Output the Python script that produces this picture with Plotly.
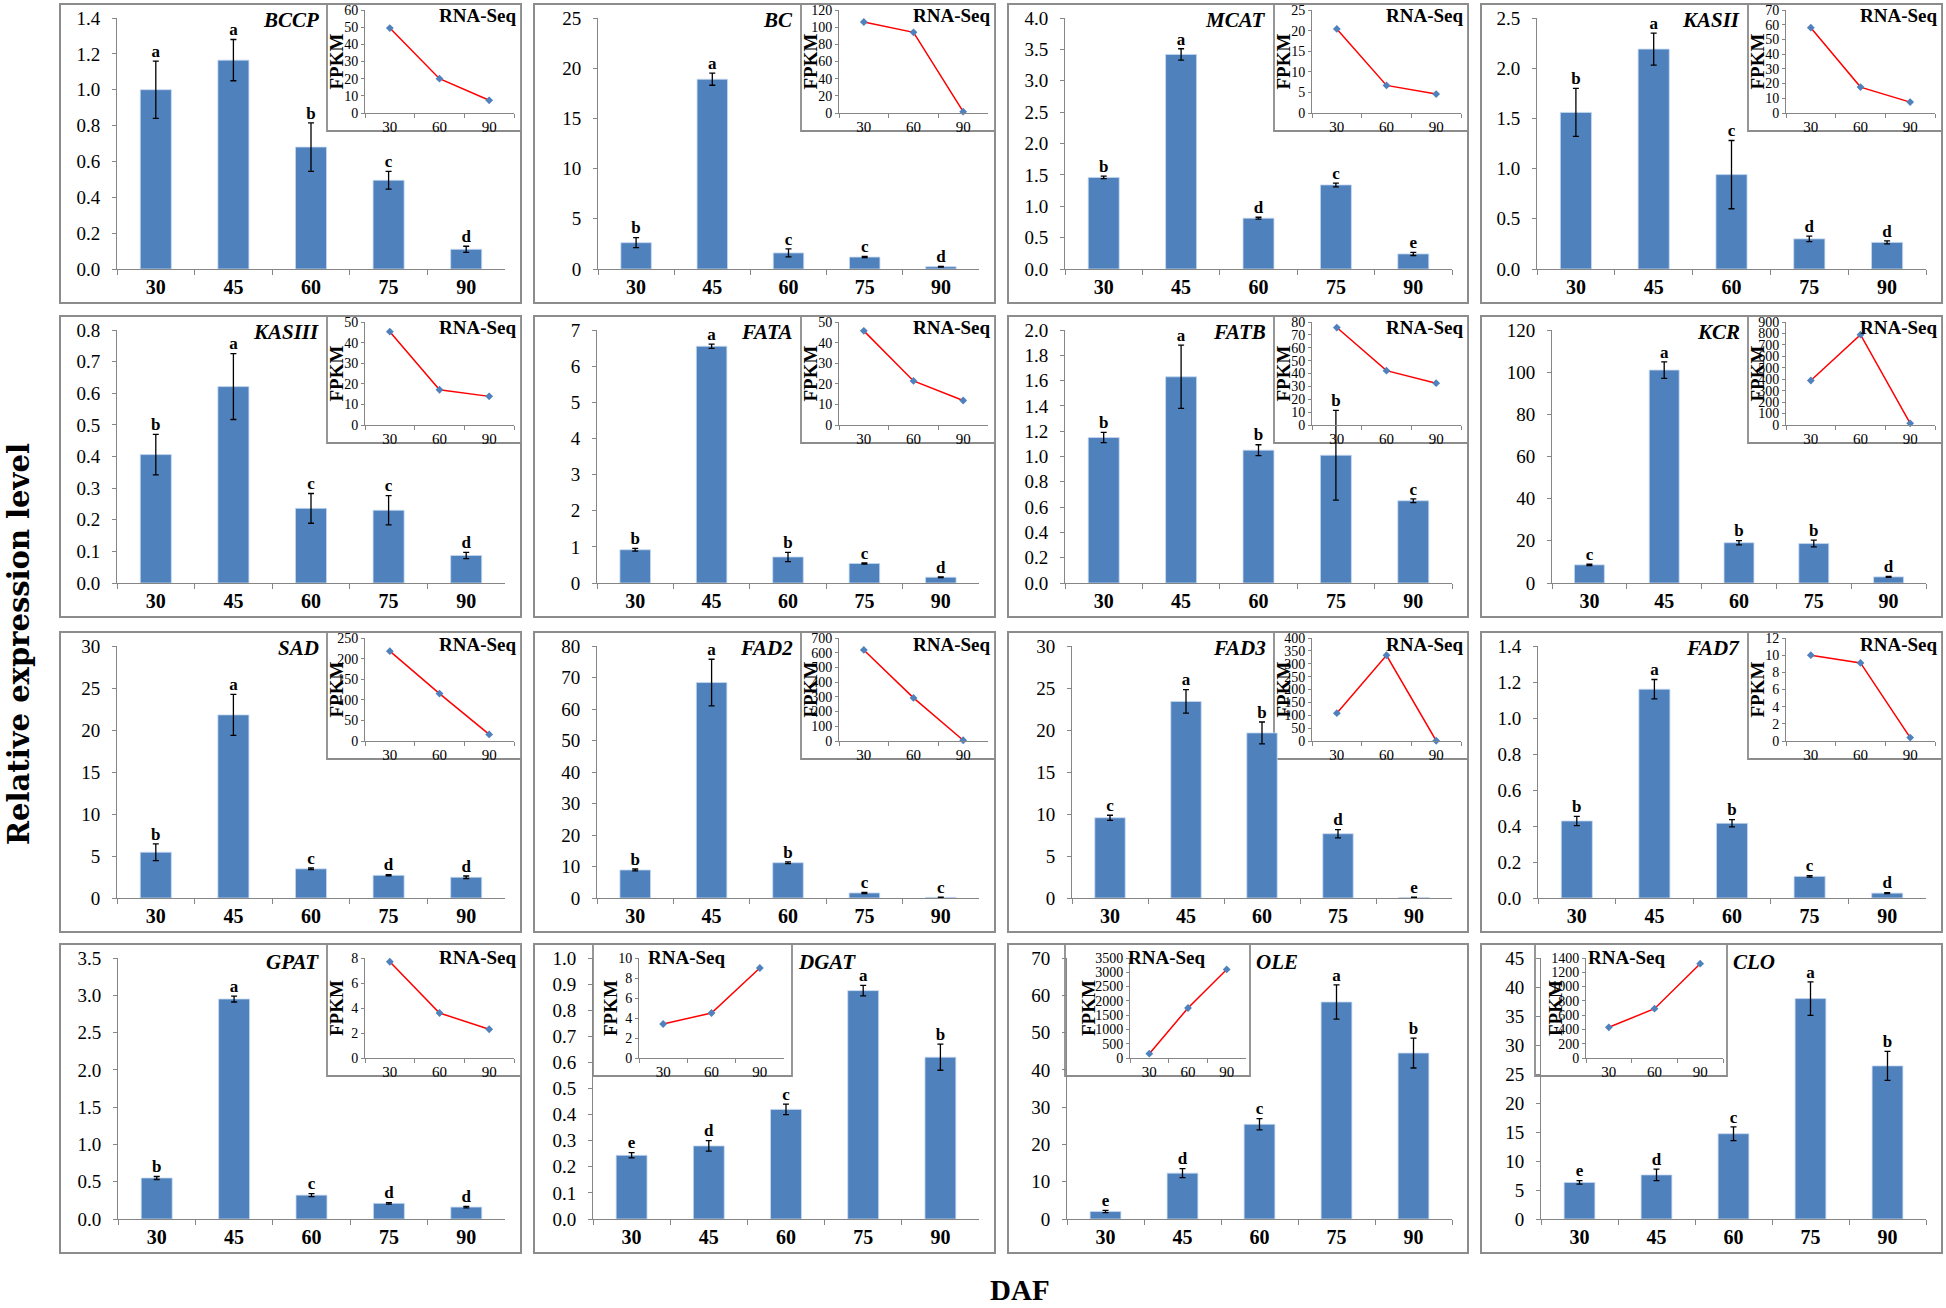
import plotly.graph_objects as go

# ---------------- data ----------------
genes = ["BCCP", "BC", "MCAT", "KASII", "KASIII", "FATA", "FATB", "KCR",
         "SAD", "FAD2", "FAD3", "FAD7", "GPAT", "DGAT", "OLE", "CLO"]
daf = ["30", "45", "60", "75", "90"]
seq_days = ["30", "60", "90"]

expr_bccp = [1.00, 1.165, 0.68, 0.495, 0.11]
expr_bc = [2.62, 18.9, 1.6, 1.19, 0.23]
expr_mcat = [1.46, 3.42, 0.81, 1.34, 0.24]
expr_kasii = [1.56, 2.19, 0.94, 0.30, 0.265]
expr_kasiii = [0.406, 0.621, 0.236, 0.230, 0.087]
expr_fata = [0.92, 6.55, 0.72, 0.54, 0.16]
expr_fatb = [1.15, 1.63, 1.05, 1.01, 0.65]
expr_kcr = [8.6, 101.0, 19.1, 18.7, 2.9]
expr_sad = [5.45, 21.8, 3.47, 2.7, 2.47]
expr_fad2 = [8.9, 68.4, 11.2, 1.6, 0.2]
expr_fad3 = [9.55, 23.4, 19.65, 7.65, 0.05]
expr_fad7 = [0.428, 1.16, 0.415, 0.12, 0.027]
expr_gpat = [0.55, 2.95, 0.32, 0.21, 0.16]
expr_dgat = [0.244, 0.28, 0.42, 0.875, 0.62]
expr_ole = [2.0, 12.3, 25.4, 58.2, 44.5]
expr_clo = [6.3, 7.6, 14.7, 38.0, 26.4]
expr = [expr_bccp, expr_bc, expr_mcat, expr_kasii, expr_kasiii, expr_fata,
        expr_fatb, expr_kcr, expr_sad, expr_fad2, expr_fad3, expr_fad7,
        expr_gpat, expr_dgat, expr_ole, expr_clo]

err = [
    [0.16, 0.115, 0.135, 0.05, 0.017],
    [0.5, 0.6, 0.4, 0.06, 0.03],
    [0.02, 0.09, 0.015, 0.03, 0.025],
    [0.24, 0.16, 0.34, 0.027, 0.015],
    [0.064, 0.104, 0.047, 0.046, 0.01],
    [0.04, 0.06, 0.13, 0.015, 0.01],
    [0.04, 0.25, 0.043, 0.355, 0.015],
    [0.3, 3.9, 1.0, 1.6, 0.2],
    [1.0, 2.45, 0.1, 0.07, 0.15],
    [0.3, 7.4, 0.3, 0.2, 0.05],
    [0.3, 1.4, 1.3, 0.5, 0.05],
    [0.026, 0.054, 0.02, 0.004, 0.003],
    [0.02, 0.04, 0.02, 0.01, 0.01],
    [0.01, 0.02, 0.02, 0.02, 0.05],
    [0.3, 1.2, 1.5, 4.6, 4.0],
    [0.3, 1.0, 1.2, 2.9, 2.5],
]

letters = [
    ["a", "a", "b", "c", "d"], ["b", "a", "c", "c", "d"], ["b", "a", "d", "c", "e"],
    ["b", "a", "c", "d", "d"], ["b", "a", "c", "c", "d"], ["b", "a", "b", "c", "d"],
    ["b", "a", "b", "b", "c"], ["c", "a", "b", "b", "d"], ["b", "a", "c", "d", "d"],
    ["b", "a", "b", "c", "c"], ["c", "a", "b", "d", "e"], ["b", "a", "b", "c", "d"],
    ["b", "a", "c", "d", "d"], ["e", "d", "c", "a", "b"], ["e", "d", "c", "a", "b"],
    ["e", "d", "c", "a", "b"],
]

fpkm = [
    [49.5, 20.0, 7.4], [106.0, 94.0, 1.6], [20.4, 6.7, 4.6], [58.0, 17.6, 7.4],
    [45.3, 17.1, 13.9], [45.7, 21.4, 11.9], [75.7, 42.2, 32.5], [389, 789, 15],
    [218, 115, 16], [619, 293, 5], [108, 333, 1], [10.0, 9.1, 0.4],
    [7.7, 3.6, 2.3], [3.4, 4.5, 9.0], [150, 1750, 3100], [430, 690, 1320],
]

y_max = [1.4, 25, 4.0, 2.5, 0.8, 7, 2.0, 120, 30, 80, 30, 1.4, 3.5, 1.0, 70, 45]
y_step = [0.2, 5, 0.5, 0.5, 0.1, 1, 0.2, 20, 5, 10, 5, 0.2, 0.5, 0.1, 10, 5]
y_fmt = [".1f", "d", ".1f", ".1f", ".1f", "d", ".1f", "d", "d", "d", "d", ".1f",
         ".1f", ".1f", "d", "d"]
fpkm_max = [60, 120, 25, 70, 50, 50, 80, 900, 250, 700, 400, 12, 8, 10, 3500, 1400]
fpkm_step = [10, 20, 5, 10, 10, 10, 10, 100, 50, 100, 50, 2, 2, 2, 500, 200]

# ---------------- geometry / style ----------------
W, H = 1946, 1308
FONT = "Liberation Serif"
AX = "#868686"
BORDER = "#8C8C8C"
COL_X = [(60, 521), (534, 995), (1008, 1468), (1481, 1942)]
ROW_Y = [(4, 303), (316, 617), (632, 932), (944, 1253)]
AXIS_OFF = [57, 64, 57, 56, 57, 63, 57, 71, 57, 63, 64, 57, 58, 59, 59, 60]
LEFT_INSETS = {
    13: dict(x0=593, x1=792, px0=639, px1=784, rna=646, fp=610),
    14: dict(x0=1065, x1=1250, px0=1130, px1=1246, rna=1126, fp=1088),
    15: dict(x0=1535, x1=1727, px0=1586, px1=1723, rna=1586, fp=1555),
}


def fx(x):
    return x / W


def fy(y):
    return 1 - y / H


fig = go.Figure()
lay = dict(width=W, height=H, margin=dict(l=0, r=0, t=0, b=0), template="none",
           paper_bgcolor="white", plot_bgcolor="rgba(0,0,0,0)", showlegend=False,
           font=dict(family=FONT, color="black"), shapes=[], annotations=[])

for i, g in enumerate(genes):
    r, c = divmod(i, 4)
    bx0, bx1 = COL_X[c]
    by0, by1 = ROW_Y[r]
    m, n = 2 * i + 1, 2 * i + 2
    mk = "" if m == 1 else str(m)
    nk = str(n)

    # panel frame
    lay["shapes"].append(dict(type="rect", xref="paper", yref="paper", x0=fx(bx0), x1=fx(bx1),
                              y0=fy(by1), y1=fy(by0), line=dict(color=BORDER, width=2),
                              fillcolor="rgba(0,0,0,0)", layer="below"))

    # main plot
    px0, px1 = bx0 + AXIS_OFF[i], bx1 - 16
    py0, py1 = by0 + 14, by1 - 34
    lay["xaxis" + mk] = dict(domain=[fx(px0), fx(px1)], anchor="y" + mk, type="category",
                             range=[-0.5, 4.5], showline=True, linecolor=AX, linewidth=1,
                             ticks="outside", tickson="boundaries", ticklen=5, tickcolor=AX,
                             tickfont=dict(family=FONT, size=20, color="black", weight="bold"),
                             showgrid=False, zeroline=False, fixedrange=True)
    lay["yaxis" + mk] = dict(domain=[fy(py1), fy(py0)], anchor="x" + mk,
                             range=[0, y_max[i]], tick0=0, dtick=y_step[i],
                             tickformat=y_fmt[i], showline=True, linecolor=AX, linewidth=1,
                             ticks="outside", ticklen=4, tickcolor=AX, ticklabelstandoff=8,
                             tickfont=dict(family=FONT, size=19, color="black"),
                             showgrid=False, zeroline=False, fixedrange=True)
    fig.add_trace(go.Bar(x=daf, y=expr[i], width=0.4,
                         marker=dict(color="#4F81BD", line=dict(color="#C6D9F1", width=0.8)),
                         error_y=dict(type="data", array=err[i], visible=True, color="black",
                                      thickness=1.3, width=3),
                         xaxis="x" + mk, yaxis="y" + mk, hoverinfo="skip"))
    tops = [v + e for v, e in zip(expr[i], err[i])]
    fig.add_trace(go.Scatter(x=daf, y=tops, mode="text", text=letters[i],
                             textposition="top center",
                             textfont=dict(family=FONT, size=17, color="black", weight="bold"),
                             xaxis="x" + mk, yaxis="y" + mk, hoverinfo="skip", cliponaxis=False))

    # inset geometry
    if i in LEFT_INSETS:
        L = LEFT_INSETS[i]
        ix0, ix1, ipx0, ipx1 = L["x0"], L["x1"], L["px0"], L["px1"]
        iy0, iy1 = by0, by0 + 132
        ipy0, ipy1 = iy0 + 14, iy1 - 18
        rna_x, rna_anchor = L["rna"], "left"
        fp_x = L["fp"]
        gene_x, gene_anchor = ix1 + 4, "left"
        gene_y = by0 + 18
        rna_y = by0 + 13
    else:
        ix1 = bx1
        ix0 = bx1 - 194
        ipx0, ipx1 = ix0 + 38, ix1 - 7
        iy0 = by0
        iy1 = by0 + (127 if r < 3 else 132)
        ipy0 = iy0 + (6 if r < 3 else 14)
        ipy1 = iy1 - 18
        rna_x, rna_anchor = ix1 - 3, "right"
        fp_x = ix0 + 9
        gene_x, gene_anchor = ix0 - 6, "right"
        gene_y = by0 + (16 if r < 3 else 18)
        rna_y = by0 + (12 if r < 3 else 13)

    lay["shapes"].append(dict(type="rect", xref="paper", yref="paper", x0=fx(ix0), x1=fx(ix1),
                              y0=fy(iy1), y1=fy(iy0), line=dict(color=BORDER, width=1.8),
                              fillcolor="white", layer="below"))
    lay["xaxis" + nk] = dict(domain=[fx(ipx0), fx(ipx1)], anchor="y" + nk, type="category",
                             range=[-0.5, 2.5], showline=True, linecolor=AX, linewidth=1,
                             ticks="outside", tickson="boundaries", ticklen=4, tickcolor=AX,
                             tickfont=dict(family=FONT, size=15, color="black"),
                             showgrid=False, zeroline=False, fixedrange=True)
    lay["yaxis" + nk] = dict(domain=[fy(ipy1), fy(ipy0)], anchor="x" + nk,
                             range=[0, fpkm_max[i]], tick0=0, dtick=fpkm_step[i],
                             showline=True, linecolor=AX, linewidth=1, ticks="outside",
                             ticklen=3, tickcolor=AX,
                             tickfont=dict(family=FONT, size=14, color="black"),
                             showgrid=False, zeroline=False, fixedrange=True)
    fig.add_trace(go.Scatter(x=seq_days, y=fpkm[i], mode="lines+markers",
                             line=dict(color="#FF0000", width=1.5),
                             marker=dict(symbol="diamond", size=6, color="#4F81BD"),
                             xaxis="x" + nk, yaxis="y" + nk, hoverinfo="skip", cliponaxis=False))

    lay["annotations"].append(dict(xref="paper", yref="paper", x=fx(gene_x), y=fy(gene_y),
                                   xanchor=gene_anchor, yanchor="middle", showarrow=False,
                                   text="<b><i>%s</i></b>" % g,
                                   font=dict(family=FONT, size=21, color="black")))
    lay["annotations"].append(dict(xref="paper", yref="paper", x=fx(rna_x), y=fy(rna_y),
                                   xanchor=rna_anchor, yanchor="middle", showarrow=False,
                                   text="<b>RNA-Seq</b>",
                                   font=dict(family=FONT, size=19, color="black")))
    lay["annotations"].append(dict(xref="paper", yref="paper", x=fx(fp_x),
                                   y=fy((ipy0 + ipy1) / 2), xanchor="center", yanchor="middle",
                                   textangle=-90, showarrow=False, text="<b>FPKM</b>",
                                   font=dict(family=FONT, size=19, color="black")))

lay["annotations"].append(dict(xref="paper", yref="paper", x=fx(0), y=fy(644),
                               xanchor="left", yanchor="middle", textangle=-90,
                               showarrow=False, text="<b>Relative expression level</b>",
                               font=dict(family="DejaVu Serif", size=29, color="black")))
lay["annotations"].append(dict(xref="paper", yref="paper", x=fx(1020), y=fy(1290),
                               xanchor="center", yanchor="middle", showarrow=False,
                               text="<b>DAF</b>",
                               font=dict(family=FONT, size=29, color="black")))

fig.update_layout(**lay)
fig.write_html("out.html", config={"displayModeBar": False},
               post_script="document.body.style.margin='0';document.body.style.overflow='hidden';")
